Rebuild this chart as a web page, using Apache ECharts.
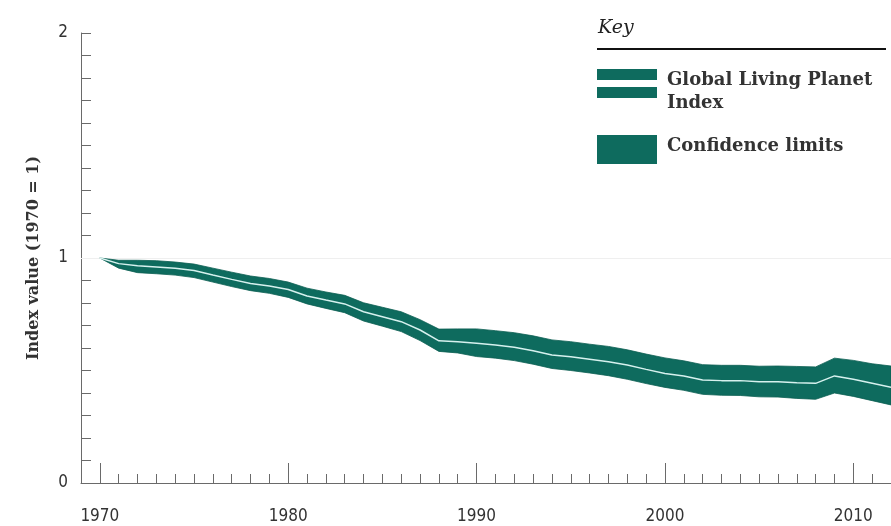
<!DOCTYPE html>
<html>
<head>
<meta charset="utf-8">
<script src="https://cdn.jsdelivr.net/npm/echarts@6/dist/echarts.min.js"></script>
<style>
html,body{margin:0;padding:0;background:#fff;}
#chart{width:891px;height:526px;}
</style>
</head>
<body>
<div id="chart"></div>
<script>
// Data
var years = [1970,1971,1972,1973,1974,1975,1976,1977,1978,1979,
             1980,1981,1982,1983,1984,1985,1986,1987,1988,1989,
             1990,1991,1992,1993,1994,1995,1996,1997,1998,1999,
             2000,2001,2002,2003,2004,2005,2006,2007,2008,2009,
             2010,2011,2012];
var indexValues = [1.000,0.975,0.966,0.960,0.954,0.944,0.924,0.905,0.887,0.876,
                   0.860,0.831,0.813,0.796,0.761,0.739,0.717,0.680,0.632,0.628,
                   0.621,0.613,0.603,0.588,0.569,0.561,0.550,0.539,0.524,0.505,
                   0.487,0.476,0.458,0.455,0.455,0.450,0.450,0.446,0.443,0.476,
                   0.461,0.443,0.425];
var upperLimit = [1.000,0.990,0.990,0.988,0.982,0.973,0.955,0.937,0.920,0.909,
                  0.893,0.866,0.849,0.834,0.801,0.781,0.761,0.726,0.684,0.685,
                  0.685,0.677,0.668,0.654,0.636,0.628,0.617,0.607,0.592,0.573,
                  0.556,0.543,0.526,0.523,0.523,0.519,0.520,0.518,0.516,0.555,
                  0.545,0.530,0.520];
var lowerLimit = [1.000,0.955,0.935,0.930,0.924,0.913,0.893,0.873,0.855,0.843,
                  0.825,0.796,0.776,0.757,0.720,0.697,0.673,0.633,0.585,0.578,
                  0.562,0.555,0.544,0.528,0.509,0.500,0.489,0.477,0.461,0.442,
                  0.425,0.412,0.394,0.390,0.389,0.383,0.382,0.376,0.372,0.400,
                  0.385,0.366,0.347];
var xTickLabels = [1970,1980,1990,2000,2010];
var yTickLabels = [0,1,2];

var teal = '#0e6b5e';
var axisColor = '#6a6a6a';
var sansNarrow = '"Liberation Sans Narrow","DejaVu Sans Condensed","Roboto",sans-serif';
var serif = '"DejaVu Serif","Liberation Serif",serif';

function pairs(vals){ return years.map(function(y,i){ return [y, vals[i]]; }); }

var chart = echarts.init(document.getElementById('chart'));
chart.setOption({
  animation:false,
  backgroundColor:'#ffffff',
  grid:{left:81,right:0,top:33,bottom:43,containLabel:false,outerBoundsMode:'none'},
  xAxis:[{
    type:'value', min:1969, max:2012, interval:1,
    axisLine:{show:true,lineStyle:{color:axisColor,width:1}},
    axisTick:{show:true,inside:true,length:9,lineStyle:{color:axisColor,width:1}},
    axisLabel:{show:false},
    splitLine:{show:false}
  },{
    type:'value', min:1969, max:2012, position:'bottom',
    axisLine:{show:false},
    axisTick:{show:true,inside:true,length:20,customValues:xTickLabels,lineStyle:{color:axisColor,width:1}},
    axisLabel:{show:true,customValues:xTickLabels,margin:25,color:'#333',fontSize:17,fontFamily:sansNarrow,
      formatter:function(v){return String(v);}},
    splitLine:{show:false}
  }],
  yAxis:{
    type:'value', min:0, max:2, interval:0.1,
    name:'Index value (1970 = 1)', nameLocation:'middle', nameGap:39, nameRotate:90,
    nameTextStyle:{fontFamily:serif,fontWeight:'bold',fontSize:16,color:'#333'},
    axisLine:{show:true,lineStyle:{color:axisColor,width:1}},
    axisTick:{show:true,inside:true,length:10,lineStyle:{color:axisColor,width:1}},
    axisLabel:{show:true,margin:13,color:'#333',fontSize:17,fontFamily:sansNarrow,
      formatter:function(v){
        for(var k=0;k<yTickLabels.length;k++){ if(Math.abs(v-yTickLabels[k])<1e-6) return String(yTickLabels[k]); }
        return '';
      }},
    splitLine:{show:false}
  },
  series:[{
    type:'custom', name:'Confidence limits', coordinateSystem:'cartesian2d', xAxisIndex:0, yAxisIndex:0,
    data:[[years[0], indexValues[0]]], silent:true, clip:true, z:2,
    renderItem:function(params, api){
      var pts = [];
      for(var i=0;i<years.length;i++){ pts.push(api.coord([years[i], upperLimit[i]])); }
      for(var j=years.length-1;j>=0;j--){ pts.push(api.coord([years[j], lowerLimit[j]])); }
      return {type:'polygon', shape:{points:pts}, style:{fill:teal, stroke:'#0b5e52', lineWidth:0.8}};
    }
  },{
    type:'line', name:'Global Living Planet Index', data:pairs(indexValues),
    symbol:'none', smooth:false, lineStyle:{width:1.5,color:'#d6f1ee'}, z:5, silent:true,
    markLine:{silent:true,symbol:'none',label:{show:false},z:1,
      lineStyle:{color:'#efefef',width:1,type:'solid'},data:[{yAxis:1}]}
  }],
  graphic:[
    {type:'text',left:598,top:19,style:{text:'Key',fontFamily:serif,fontStyle:'italic',fontSize:19,fill:'#222'}},
    {type:'line',shape:{x1:597,y1:49,x2:886,y2:49},style:{stroke:'#111',lineWidth:2}},
    {type:'rect',shape:{x:597,y:69,width:60,height:11},style:{fill:teal}},
    {type:'rect',shape:{x:597,y:87,width:60,height:11},style:{fill:teal}},
    {type:'text',left:667,top:69,style:{text:'Global Living Planet\nIndex',fontFamily:serif,fontWeight:'bold',fontSize:18,lineHeight:23,fill:'#333'}},
    {type:'rect',shape:{x:597,y:135,width:60,height:29},style:{fill:teal}},
    {type:'text',left:667,top:137,style:{text:'Confidence limits',fontFamily:serif,fontWeight:'bold',fontSize:18,fill:'#333'}}
  ]
});
</script>
</body>
</html>
